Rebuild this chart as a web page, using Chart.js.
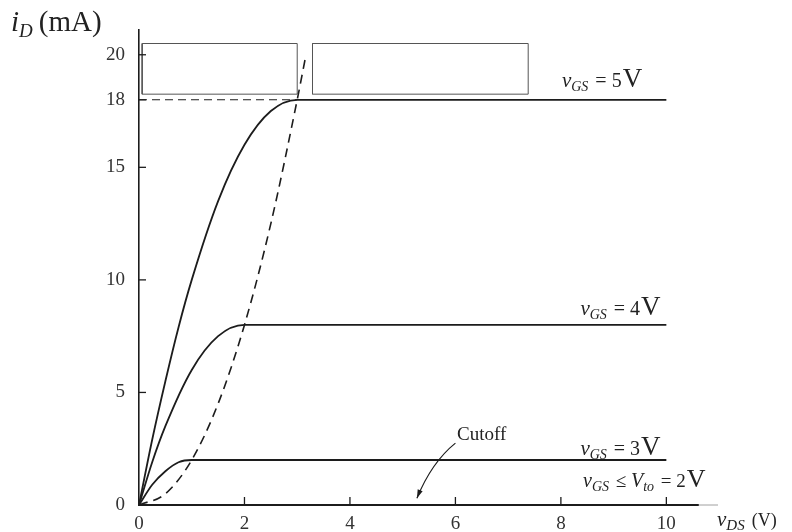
<!DOCTYPE html>
<html>
<head>
<meta charset="utf-8">
<script src="https://cdn.jsdelivr.net/npm/chart.js@4/dist/chart.umd.min.js"></script>
<style>
html,body{margin:0;padding:0;background:#fff;}
canvas{display:block;}
</style>
</head>
<body>
<canvas id="c" width="792" height="532"></canvas>
<script>
// ---- data ----
const xTicks = [0, 2, 4, 6, 8, 10];
const yTicks = [0, 5, 10, 15, 18, 20];

const vgs5X = [0, 0.25, 0.5, 0.75, 1, 1.5, 2, 2.5, 3, 10];
const vgs5Y = [0, 2.9, 5.5, 7.9, 10, 13.5, 16, 17.5, 18, 18];

const vgs4X = [0, 0.25, 0.5, 1, 1.5, 2, 10];
const vgs4Y = [0, 1.9, 3.5, 6, 7.5, 8, 8];

const vgs3X = [0, 0.25, 0.5, 0.75, 1, 10];
const vgs3Y = [0, 0.9, 1.5, 1.9, 2, 2];

const boundaryX = [0, 0.5, 1, 1.5, 2, 2.5, 3, 3.15];
const boundaryY = [0, 0.5, 2, 4.5, 8, 12.5, 18, 19.8];

const level18X = [0, 3];
const level18Y = [18, 18];

const box1X = [0.06, 3.0, 3.0, 0.06, 0.06];
const box1Y = [18.25, 18.25, 20.5, 20.5, 18.25];
const box2X = [3.29, 7.38, 7.38, 3.29, 3.29];
const box2Y = [18.25, 18.25, 20.5, 20.5, 18.25];

const curveLabels = ['5', '4', '3'];

function pts(xs, ys) { return xs.map((x, i) => ({x: x, y: ys[i]})); }

const SERIF = '"Liberation Serif", "DejaVu Serif", serif';
const INK = '#1c1c1c';

function drawRich(ctx, x, y, parts) {
  let cx = x;
  parts.forEach(p => {
    ctx.font = (p.italic ? 'italic ' : '') + p.size + 'px ' + SERIF;
    ctx.fillText(p.t, cx, y + (p.dy || 0));
    cx += ctx.measureText(p.t).width + (p.gap || 0);
  });
}

const decor = {
  id: 'decor',
  beforeDraw(chart) {
    const ctx = chart.ctx;
    ctx.save();
    ctx.fillStyle = '#fff';
    ctx.fillRect(0, 0, chart.width, chart.height);
    ctx.restore();
  },
  afterDraw(chart) {
    const ctx = chart.ctx;
    const xs = chart.scales.x, ys = chart.scales.y;
    const ca = chart.chartArea;
    ctx.save();
    ctx.strokeStyle = INK;
    ctx.lineWidth = 1.3;
    // inward tick marks
    yTicks.forEach(v => {
      if (v === 0) return;
      const py = ys.getPixelForValue(v);
      ctx.beginPath(); ctx.moveTo(ca.left, py); ctx.lineTo(ca.left + 7, py); ctx.stroke();
    });
    xTicks.forEach(v => {
      if (v === 0) return;
      const px = xs.getPixelForValue(v);
      ctx.beginPath(); ctx.moveTo(px, ca.bottom); ctx.lineTo(px, ca.bottom - 8); ctx.stroke();
    });
    // thin extension of x axis
    ctx.strokeStyle = '#888';
    ctx.lineWidth = 0.8;
    ctx.beginPath(); ctx.moveTo(ca.right, ca.bottom); ctx.lineTo(ca.right + 20, ca.bottom); ctx.stroke();

    // cutoff arrow
    ctx.strokeStyle = INK;
    ctx.lineWidth = 1.2;
    const a0 = [xs.getPixelForValue(6.0), ys.getPixelForValue(2.75)];
    const a1 = [xs.getPixelForValue(5.55), ys.getPixelForValue(1.9)];
    const a2 = [xs.getPixelForValue(5.27), ys.getPixelForValue(0.3)];
    ctx.beginPath(); ctx.moveTo(a0[0], a0[1]); ctx.quadraticCurveTo(a1[0], a1[1], a2[0], a2[1]); ctx.stroke();
    const ang = Math.atan2(a2[1] - a1[1], a2[0] - a1[0]);
    ctx.fillStyle = INK;
    ctx.beginPath();
    ctx.moveTo(a2[0], a2[1]);
    ctx.lineTo(a2[0] - 9 * Math.cos(ang - 0.3), a2[1] - 9 * Math.sin(ang - 0.3));
    ctx.lineTo(a2[0] - 9 * Math.cos(ang + 0.3), a2[1] - 9 * Math.sin(ang + 0.3));
    ctx.closePath(); ctx.fill();

    // texts
    ctx.fillStyle = '#222';
    ctx.textBaseline = 'alphabetic';
    ctx.textAlign = 'left';
    // y axis title
    drawRich(ctx, 11, 31, [
      {t: 'i', size: 29, italic: true},
      {t: 'D', size: 19, italic: true, dy: 6, gap: 6},
      {t: '(mA)', size: 29}
    ]);
    // x axis title
    drawRich(ctx, ca.right + 19, ca.bottom + 21, [
      {t: 'v', size: 21, italic: true},
      {t: 'DS', size: 15, italic: true, dy: 4, gap: 7},
      {t: '(V)', size: 18}
    ]);
    // curve labels
    const labelPos = [[8.02, 18.55], [8.37, 8.44], [8.37, 2.22]];
    curveLabels.forEach((lab, i) => {
      const px = xs.getPixelForValue(labelPos[i][0]);
      const py = ys.getPixelForValue(labelPos[i][1]);
      drawRich(ctx, px, py, [
        {t: 'v', size: 21, italic: true},
        {t: 'GS', size: 14, italic: true, dy: 4, gap: 2},
        {t: ' = ' + lab, size: 20, gap: 1},
        {t: 'V', size: 27}
      ]);
    });
    {
      const px = xs.getPixelForValue(8.42);
      const py = ys.getPixelForValue(0.8);
      drawRich(ctx, px, py, [
        {t: 'v', size: 20, italic: true},
        {t: 'GS', size: 14, italic: true, dy: 4, gap: 2},
        {t: ' \u2264 ', size: 19},
        {t: 'V', size: 20, italic: true},
        {t: 'to', size: 14, italic: true, dy: 4, gap: 2},
        {t: ' = 2', size: 19, gap: 1},
        {t: 'V', size: 26}
      ]);
    }
    drawRich(ctx, xs.getPixelForValue(6.03), ys.getPixelForValue(2.9), [
      {t: 'Cutoff', size: 19}
    ]);
    ctx.restore();
  }
};

const lineDs = (label, xs, ys, extra) => Object.assign({
  label: label,
  data: pts(xs, ys),
  borderColor: INK,
  borderWidth: 1.8,
  pointRadius: 0,
  fill: false,
  cubicInterpolationMode: 'monotone'
}, extra || {});

new Chart(document.getElementById('c'), {
  type: 'line',
  data: {
    datasets: [
      lineDs('vGS = 5 V', vgs5X, vgs5Y),
      lineDs('vGS = 4 V', vgs4X, vgs4Y),
      lineDs('vGS = 3 V', vgs3X, vgs3Y),
      lineDs('boundary', boundaryX, boundaryY, {borderDash: [9, 6], borderWidth: 1.6}),
      lineDs('18 mA', level18X, level18Y, {borderDash: [8, 5], borderWidth: 1.1, cubicInterpolationMode: 'default', tension: 0}),
      lineDs('box1', box1X, box1Y, {borderColor: '#555', borderWidth: 1, cubicInterpolationMode: 'default', tension: 0}),
      lineDs('box2', box2X, box2Y, {borderColor: '#555', borderWidth: 1, cubicInterpolationMode: 'default', tension: 0})
    ]
  },
  options: {
    responsive: false,
    animation: false,
    devicePixelRatio: 1,
    layout: {padding: {left: 0, right: 94, top: 30, bottom: 0}},
    plugins: {legend: {display: false}, tooltip: {enabled: false}},
    scales: {
      x: {
        type: 'linear',
        min: 0, max: 10.6,
        grid: {display: false},
        border: {display: true, color: INK, width: 2},
        afterBuildTicks: s => { s.ticks = xTicks.map(v => ({value: v})); },
        afterFit: s => { s.height = 27; },
        ticks: {padding: 0, maxRotation: 0, color: '#333', font: {family: SERIF, size: 19}}
      },
      y: {
        type: 'linear',
        min: 0, max: 21.1,
        grid: {display: false},
        border: {display: true, color: INK, width: 1.6},
        afterBuildTicks: s => { s.ticks = yTicks.map(v => ({value: v})); },
        afterFit: s => { s.width = 139; },
        ticks: {padding: 6, color: '#333', font: {family: SERIF, size: 19}}
      }
    }
  },
  plugins: [decor]
});
</script>
</body>
</html>
